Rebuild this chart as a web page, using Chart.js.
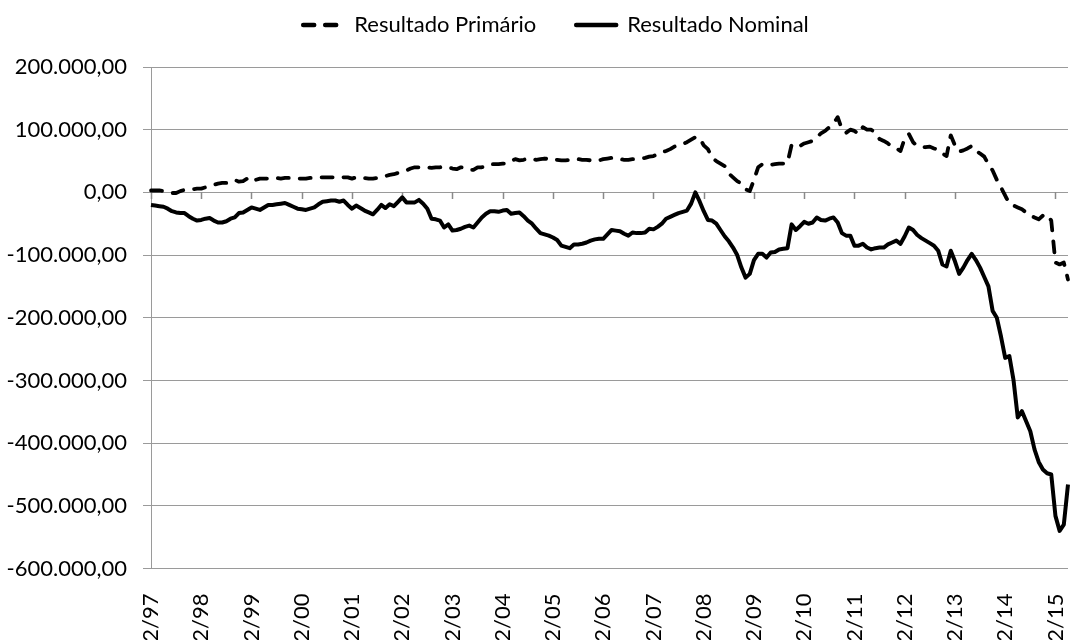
<!DOCTYPE html>
<html>
<head>
<meta charset="utf-8">
<script src="https://cdn.jsdelivr.net/npm/chart.js@4/dist/chart.umd.min.js"></script>
<style>
  html, body { margin: 0; padding: 0; background: #fff; }
</style>
</head>
<body>
<canvas id="resultChart" width="1070" height="640"></canvas>
<script>
// monthly values from 12/97 to 03/16, in thousands
const primario = [
  3, 3, 3, 2, 0, -1, -1, 2, 4, 5, 5, 6,
  6, 8, 10, 12, 14, 15, 15, 18, 20, 17, 18, 22,
  25, 20, 22, 22, 22, 23, 23, 22, 23, 23, 22, 22,
  22, 22, 23, 23, 24, 24, 24, 24, 24, 23, 24, 24,
  22, 24, 24, 23, 22, 22, 23, 24, 26, 28, 29, 31,
  33, 35, 38, 40, 40, 40, 40, 39, 40, 40, 41, 40,
  38, 37, 40, 39, 36, 36, 40, 40, 42, 45, 45, 45,
  46, 46, 50, 53, 51, 52, 54, 53, 52, 53, 54, 53,
  51, 52, 51, 51, 52, 53, 53, 52, 52, 51, 52, 51,
  53, 54, 55, 54, 53, 52, 52, 53, 53, 54, 55, 57,
  58, 61, 64, 66, 69, 73, 75, 77, 80, 84, 88, 87,
  75, 69, 55, 50, 46, 42, 30, 24, 18, 14, 5, 2,
  20, 40, 45, 43, 44, 45, 46, 46, 47, 76, 73, 74,
  78, 80, 82, 88, 94, 98, 104, 110, 120, 101, 95, 100,
  98, 93, 104, 100, 100, 95, 85, 82, 78, 73, 70, 66,
  86, 93, 80, 74, 73, 72, 73, 70, 68, 62, 58, 91,
  75, 65, 67, 70, 74, 66, 62, 57, 45, 35, 20, 8,
  -5, -18, -21, -24, -27, -32, -37, -40, -43, -37, -35, -45,
  -112, -115, -112, -139
];
const nominal = [
  -20, -21, -22, -23, -26, -30, -32, -33, -33, -38, -42, -45,
  -44, -42, -41, -45, -48, -48, -46, -42, -40, -33, -32, -28,
  -24, -26, -28, -24, -20, -20, -19, -18, -17, -20, -23, -26,
  -27, -28, -26, -24, -19, -15, -14, -13, -13, -15, -13, -20,
  -26, -21, -25, -29, -32, -35, -28, -20, -25, -19, -22, -15,
  -8, -16, -16, -16, -12, -18, -26, -42, -43, -45, -56, -51,
  -61, -60, -58, -55, -53, -56, -48, -40, -34, -30, -30, -31,
  -29, -28, -34, -33, -32, -38, -45, -50, -58, -65, -67, -69,
  -72, -76, -85, -87, -89, -83, -83, -82, -80, -77, -75, -74,
  -74, -67, -60, -61, -62, -66, -69, -64, -65, -65, -64, -58,
  -59, -55, -50, -42, -39, -36, -33, -31, -29, -18, 0, -14,
  -30, -44, -45, -50, -60, -70, -78, -88, -100, -120, -136, -130,
  -108, -98, -98, -104, -96, -95, -91, -90, -89, -51, -60, -54,
  -47, -50, -48, -40, -44, -45, -42, -40, -48, -65, -69, -69,
  -85, -85, -82, -88, -91, -89, -88, -88, -83, -80, -77, -82,
  -70, -56, -60, -68, -73, -77, -81, -85, -93, -115, -118, -93,
  -110, -130, -120, -108, -98, -108, -120, -135, -150, -189, -200, -230,
  -264, -261, -300, -359, -349, -365, -381, -410, -430, -442, -448, -450,
  -516, -540, -530, -466
];
const seriesNames = ['Resultado Primário', 'Resultado Nominal'];

// month labels mm/yy starting at 12/97
const months = [];
for (let i = 0; i < primario.length; i++) {
  const m = (11 + i) % 12 + 1;
  const y = (97 + Math.floor((11 + i) / 12)) % 100;
  months.push(String(m).padStart(2, '0') + '/' + String(y).padStart(2, '0'));
}

const gridGray = '#9a9a9a';
const font = { family: 'Lato, sans-serif', size: 22 };

function fmtBR(v) {
  const n = Math.round(v * 1000);
  const s = Math.abs(n).toString().replace(/\B(?=(\d{3})+(?!\d))/g, '.');
  return (n < 0 ? '-' : '') + s + ',00';
}

const onlyDecember = (scale) => {
  scale.ticks = scale.ticks.filter((t) => t.value % 12 === 0);
};

// fixed legend height and a small shift to the right, like the original
const legendTweak = {
  id: 'legendTweak',
  beforeInit(chart) {
    const legend = chart.legend;
    const fit = legend.fit;
    legend.fit = function () {
      fit.bind(legend)();
      this.height = 93;
    };
    const draw = legend.draw;
    legend.draw = function () {
      const ctx = chart.ctx;
      ctx.save();
      ctx.translate(22, 0);
      draw.bind(legend)();
      ctx.restore();
    };
  },
};

// Excel puts the category tick marks on the zero line
const zeroLineTicks = {
  id: 'zeroLineTicks',
  beforeDatasetsDraw(chart) {
    const { ctx, scales } = chart;
    const x = scales.x;
    const y0 = Math.round(scales.y.getPixelForValue(0));
    ctx.save();
    ctx.strokeStyle = '#8a8a8a';
    ctx.lineWidth = 1.5;
    ctx.setLineDash([]);
    ctx.beginPath();
    for (let i = 0; i < x.ticks.length; i++) {
      const px = Math.round(x.getPixelForTick(i)) + 0.5;
      ctx.moveTo(px, y0);
      ctx.lineTo(px, y0 + 7);
    }
    ctx.stroke();
    ctx.restore();
  },
};

new Chart(document.getElementById('resultChart'), {
  type: 'line',
  data: {
    labels: months,
    datasets: [
      {
        label: seriesNames[0],
        data: primario,
        borderColor: '#000',
        backgroundColor: '#000',
        borderWidth: 3.8,
        borderDash: [11, 11],
        borderCapStyle: 'round',
        borderJoinStyle: 'round',
        pointRadius: 0,
        tension: 0,
        fill: false,
      },
      {
        label: seriesNames[1],
        data: nominal,
        borderColor: '#000',
        backgroundColor: '#000',
        borderWidth: 4,
        borderJoinStyle: 'round',
        pointRadius: 0,
        tension: 0,
        fill: false,
      },
    ],
  },
  options: {
    responsive: false,
    animation: false,
    layout: { padding: { left: 0, right: 2, top: -26, bottom: 0 } },
    plugins: {
      tooltip: { enabled: false },
      legend: {
        position: 'top',
        labels: {
          usePointStyle: true,
          pointStyle: 'line',
          pointStyleWidth: 40,
          padding: 40,
          color: '#000',
          font: font,
          generateLabels: (chart) => {
            const items = Chart.defaults.plugins.legend.labels.generateLabels(chart);
            items.forEach((it, i) => {
              const ds = chart.data.datasets[i];
              it.lineDash = ds.borderDash || [];
              it.lineCap = 'round';
              it.lineWidth = 4.5;
              it.strokeStyle = '#000';
            });
            return items;
          },
        },
      },
    },
    scales: {
      x: {
        type: 'category',
        offset: false,
        afterBuildTicks: onlyDecember,
        afterFit: (s) => {
          s.height = 71.5;
          s.paddingLeft = 0;
          s.paddingRight = 0;
        },
        grid: { display: false },
        border: { display: false },
        ticks: {
          autoSkip: false,
          minRotation: 90,
          maxRotation: 90,
          padding: 17,
          color: '#000',
          font: font,
          callback: (v) => months[v],
        },
      },
      y: {
        min: -600,
        max: 200,
        afterFit: (s) => { s.width = 151; },
        grid: { color: gridGray, lineWidth: 1, tickLength: 8 },
        border: { color: gridGray, width: 1 },
        ticks: {
          stepSize: 100,
          padding: 16,
          color: '#000',
          font: font,
          callback: (v) => fmtBR(v),
        },
      },
    },
  },
  plugins: [legendTweak, zeroLineTicks],
});
</script>
</body>
</html>
